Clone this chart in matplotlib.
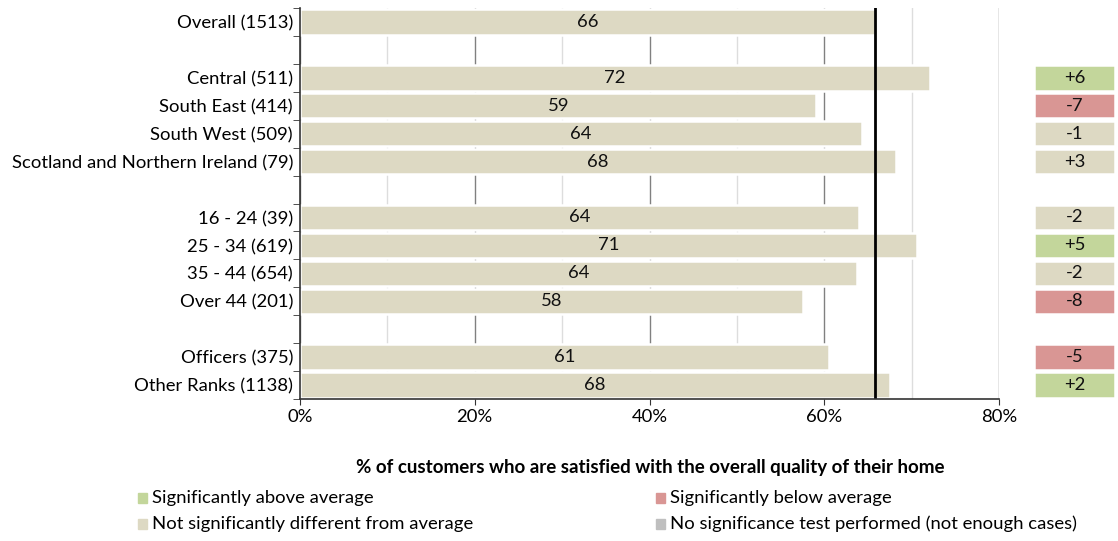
import matplotlib
matplotlib.use("Agg")
import matplotlib.pyplot as plt
from matplotlib.patches import Rectangle
from matplotlib.ticker import MultipleLocator, FixedLocator, FuncFormatter

plt.rcParams['font.family'] = ['Lato', 'DejaVu Sans']

# Row labels (None = spacer row between groups)
labels = [
    "Overall (1513)", None,
    "Central (511)", "South East (414)", "South West (509)",
    "Scotland and Northern Ireland (79)", None,
    "16 - 24 (39)", "25 - 34 (619)", "35 - 44 (654)", "Over 44 (201)", None,
    "Officers (375)", "Other Ranks (1138)",
]
# % satisfied for each row
values = [65.8, None, 72.1, 59.1, 64.3, 68.2, None, 64.0, 70.6, 63.7, 57.6, None, 60.6, 67.5]
# difference from the overall figure and significance class
diffs = [None, None, "+6", "-7", "-1", "+3", None, "-2", "+5", "-2", "-8", None, "-5", "+2"]
status = [None, None, "above", "below", "ns", "ns", None, "ns", "above", "ns", "below", None, "below", "above"]

colors = {"above": "#c3d69b", "below": "#d99694", "ns": "#ddd9c3", "none": "#bfbfbf"}
bar_color = "#ddd9c3"
overall = values[0]
FS = 13.3

W, H = 1118, 541
fig = plt.figure(figsize=(W / 100, H / 100), dpi=100)
ax = fig.add_axes([300 / W, 1 - 399 / H, 699 / W, 391 / H])

rows = list(range(len(labels)))
for y, v in zip(rows, values):
    if v is None:
        continue
    ax.barh(y, v, height=0.91, color=bar_color, edgecolor="white", linewidth=1.8, zorder=2)
    ax.text(v / 2, y, f"{v:.0f}", ha="center", va="center", fontsize=FS, color="#111111", zorder=4)

ax.axvline(overall, color="black", linewidth=2, zorder=5)

ax.set_xlim(0, 80)
ax.set_ylim(len(labels) - 0.5, -0.5)
ax.xaxis.set_major_locator(MultipleLocator(20))
ax.xaxis.set_minor_locator(MultipleLocator(10))
ax.xaxis.set_major_formatter(FuncFormatter(lambda x, p: f"{x:.0f}%"))
ax.grid(axis="x", which="major", color="#808080", linewidth=1.0, zorder=0)
ax.grid(axis="x", which="minor", color="#dddddd", linewidth=1.0, zorder=0)
ax.set_axisbelow(True)

tick_rows = [r for r, l in zip(rows, labels) if l is not None]
ax.set_yticks(tick_rows)
ax.set_yticklabels([l for l in labels if l is not None], fontsize=FS)
ax.yaxis.set_minor_locator(FixedLocator([r - 0.5 for r in rows] + [len(labels) - 0.5]))
ax.tick_params(axis="y", which="major", length=0, pad=5)
ax.tick_params(axis="y", which="minor", length=5, direction="out", color="#333333")
ax.tick_params(axis="x", which="major", length=4, direction="out", labelsize=FS, pad=3, color="#333333")
ax.tick_params(axis="x", which="minor", length=0)

for s in ["top", "right"]:
    ax.spines[s].set_visible(False)
for s in ["left", "bottom"]:
    ax.spines[s].set_color("#333333")
    ax.spines[s].set_linewidth(1.2)
    ax.spines[s].set_zorder(6)

# Difference boxes at the right
ax2 = fig.add_axes([1034 / W, 1 - 399 / H, 81 / W, 391 / H], sharey=ax)
ax2.set_xlim(0, 1)
for y, d, st in zip(rows, diffs, status):
    if d is None:
        continue
    ax2.barh(y, 1, left=0, height=0.91, color=colors[st], edgecolor="white", linewidth=1.8)
    ax2.text(0.5, y, d, ha="center", va="center", fontsize=FS, color="#111111")
ax2.axis("off")

# Axis title and legend
fig.text(650 / W, 1 - 467 / H, "% of customers who are satisfied with the overall quality of their home",
         ha="center", va="center", fontsize=13.5, fontweight="bold")

legend_items = [
    ("above", "Significantly above average", 138, 498),
    ("below", "Significantly below average", 656, 498),
    ("ns", "Not significantly different from average", 138, 524),
    ("none", "No significance test performed (not enough cases)", 656, 524),
]
for key, text, x, y in legend_items:
    fig.patches.append(Rectangle((x / W, 1 - (y + 5) / H), 9 / W, 10 / H,
                                 transform=fig.transFigure, color=colors[key]))
    fig.text((x + 14) / W, 1 - y / H, text, ha="left", va="center", fontsize=13.3)

fig.savefig("out.png", dpi=100)
